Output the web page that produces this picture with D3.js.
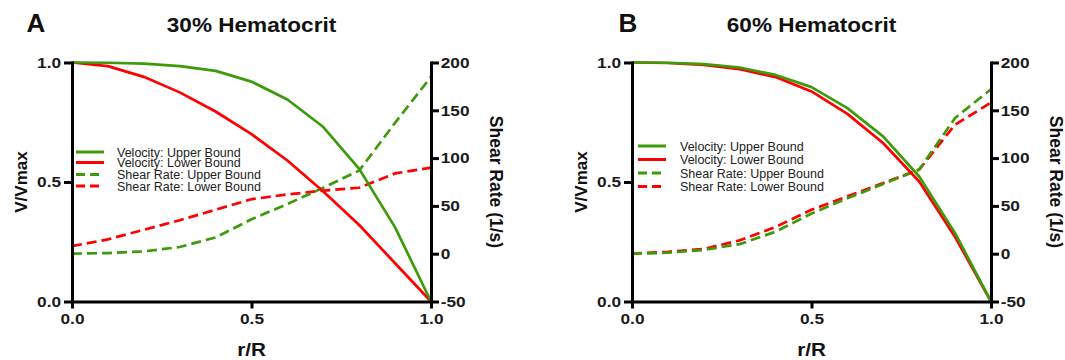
<!DOCTYPE html>
<html><head><meta charset="utf-8">
<script src="https://cdn.jsdelivr.net/npm/d3@7"></script>
<style>body{margin:0;background:#fff}svg{display:block}</style>
</head><body>
<svg id="chart" width="1065" height="360"></svg>
<script>
const rR = [0,0.1,0.2,0.3,0.4,0.5,0.6,0.7,0.8,0.9,1.0];
// Panel A: 30% Hematocrit
const velUpperA = [1.0,0.999,0.995,0.985,0.965,0.92,0.845,0.73,0.555,0.31,0.0];
const velLowerA = [1.0,0.985,0.94,0.875,0.795,0.70,0.59,0.46,0.32,0.16,0.0];
const shearUpperA = [0,0.7,2.4,7,17,36,52,69,87,137,185];
const shearLowerA = [8,15,25,35,46,57,62,66,69,84,90];
// Panel B: 60% Hematocrit
const velUpperB = [1.0,0.999,0.993,0.979,0.948,0.897,0.809,0.69,0.523,0.286,0.0];
const velLowerB = [1.0,0.998,0.99,0.972,0.939,0.879,0.785,0.662,0.502,0.27,0.0];
const shearUpperB = [0,1,4,10,23,42,58,73,88,142,172];
const shearLowerB = [0,2,5,14,28,46,60,74,88,135,158];

const xTicks = [0,0.5,1.0];
const yLeftTicks = [0,0.5,1.0];
const yRightTicks = [-50,0,50,100,150,200];
const legendLabels = ["Velocity: Upper Bound","Velocity: Lower Bound","Shear Rate: Upper Bound","Shear Rate: Lower Bound"];
const titles = ["30% Hematocrit","60% Hematocrit"];
const letters = ["A","B"];

const GREEN = "#3d9a0a", RED = "#ff0000";
const svg = d3.select("#chart");
const font = "'Liberation Sans', Arial, Helvetica, sans-serif";

const panels = [
  {x0:72, letterX:36, vu:velUpperA, vl:velLowerA, su:shearUpperA, sl:shearLowerA, legX:76, legYs:[152,162.5,174.5,186], textX:117},
  {x0:632, letterX:628, vu:velUpperB, vl:velLowerB, su:shearUpperB, sl:shearLowerB, legX:638, legYs:[146,159.5,173,186.5], textX:680}
];

function stretchedText(g, x, y, size, sx, txt, anchor){
  return g.append("text").attr("transform",`translate(${x},${y}) scale(${sx},1)`)
    .attr("text-anchor", anchor||"middle").attr("font-family",font).attr("font-weight","bold")
    .attr("font-size", size+"px").attr("fill","#111").text(txt);
}

panels.forEach((p,i)=>{
  const W = 359, top = 62.5, bottom = 301.5;
  const x = d3.scaleLinear().domain([0,1]).range([p.x0, p.x0+W]);
  const yL = d3.scaleLinear().domain([0,1]).range([bottom, top]);
  const yR = d3.scaleLinear().domain([-50,200]).range([bottom, top]);
  const g = svg.append("g");

  // series
  const lineL = d3.line().x((d,j)=>x(rR[j])).y(d=>yL(d));
  const lineR = d3.line().x((d,j)=>x(rR[j])).y(d=>yR(d));
  const series = [
    {d:p.sl, gen:lineR, c:RED, dash:"10,5"},
    {d:p.su, gen:lineR, c:GREEN, dash:"10,5"},
    {d:p.vl, gen:lineL, c:RED, dash:null},
    {d:p.vu, gen:lineL, c:GREEN, dash:null}
  ];
  series.forEach(s=>{
    g.append("path").attr("d", s.gen(s.d)).attr("fill","none")
     .attr("stroke", s.c).attr("stroke-width",2.7)
     .attr("stroke-dasharray", s.dash).attr("stroke-linejoin","round");
  });

  // axes
  const axStyle = sel => {
    sel.select(".domain").attr("stroke","#000").attr("stroke-width",3);
    sel.selectAll(".tick line").attr("stroke","#000").attr("stroke-width",3);
    sel.selectAll(".tick text").attr("font-family",font).attr("font-weight","bold")
      .attr("font-size","15px").attr("fill","#1a1a1a").attr("transform","scale(1.15,1)");
  };
  g.append("g").attr("transform",`translate(0,${bottom})`)
    .call(d3.axisBottom(x).tickValues(xTicks).tickFormat(d3.format(".1f")).tickSize(7).tickSizeOuter(0).tickPadding(5))
    .call(axStyle);
  g.append("g").attr("transform",`translate(${p.x0},0)`)
    .call(d3.axisLeft(yL).tickValues(yLeftTicks).tickFormat(d3.format(".1f")).tickSize(8).tickSizeOuter(0).tickPadding(1.5))
    .call(axStyle);
  g.append("g").attr("transform",`translate(${p.x0+W},0)`)
    .call(d3.axisRight(yR).tickValues(yRightTicks).tickFormat(d=>String(d)).tickSize(8).tickSizeOuter(0).tickPadding(0.5))
    .call(axStyle);
  g.selectAll(".domain").attr("stroke-linecap","square");

  // titles
  stretchedText(g, p.letterX, 31.5, 26, 1.0, letters[i]);
  stretchedText(g, p.x0+W/2, 31.5, 20, 1.13, titles[i]);
  stretchedText(g, p.x0+W/2, 356, 18, 1.15, "r/R");
  g.append("text").attr("transform",`translate(${p.x0-45},${(top+bottom)/2}) rotate(-90)`).attr("text-anchor","middle")
    .attr("font-family",font).attr("font-weight","bold").attr("font-size","17px").attr("fill","#111").text("V/Vmax");
  g.append("text").attr("transform",`translate(${p.x0+W+59},${(top+bottom)/2}) rotate(90)`).attr("text-anchor","middle")
    .attr("font-family",font).attr("font-weight","bold").attr("font-size","17.5px").attr("fill","#111").text("Shear Rate (1/s)");

  // legend
  const cols = [GREEN, RED, GREEN, RED];
  legendLabels.forEach((lab,k)=>{
    const yy = p.legYs[k];
    g.append("line").attr("x1",p.legX).attr("x2",p.legX+28).attr("y1",yy).attr("y2",yy)
      .attr("stroke",cols[k]).attr("stroke-width",3).attr("stroke-dasharray", k>=2 ? "9,5" : null);
    g.append("text").attr("x",p.textX).attr("y",yy+4.5).attr("font-family",font)
      .attr("font-size","12.5px").attr("fill","#222").text(lab);
  });
});
</script>
</body></html>
